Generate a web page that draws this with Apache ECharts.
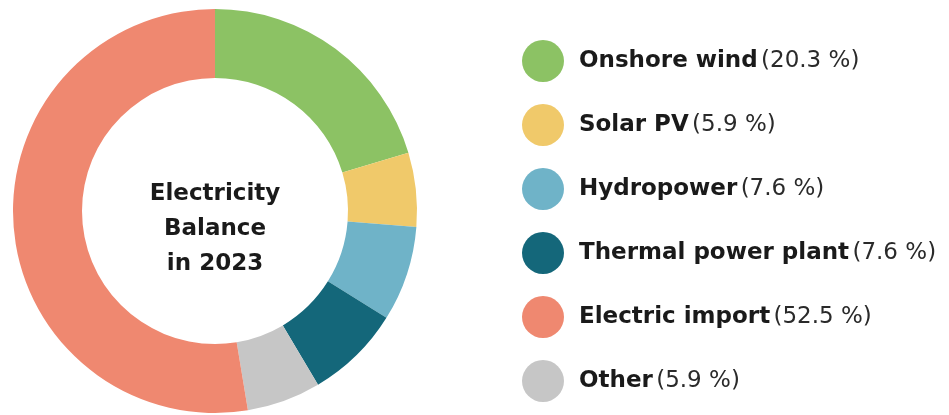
<!DOCTYPE html>
<html>
<head>
<meta charset="utf-8">
<script src="https://cdn.jsdelivr.net/npm/echarts@6/dist/echarts.min.js"></script>
<style>
html,body{margin:0;padding:0;background:#fff;}
#chart{width:949px;height:415px;}
</style>
</head>
<body>
<div id="chart"></div>
<script>
// Data
const sliceNames = ['Onshore wind', 'Solar PV', 'Hydropower', 'Thermal power plant', 'Other', 'Electric import'];
const sliceValues = [20.3, 5.9, 7.6, 7.6, 5.9, 52.5];
const sliceColors = ['#8cc264', '#f0c96a', '#6fb3c8', '#14677a', '#c6c6c6', '#ef8870'];
const legendOrder = ['Onshore wind', 'Solar PV', 'Hydropower', 'Thermal power plant', 'Electric import', 'Other'];
const centerLines = ['Electricity', 'Balance', 'in 2023'];

const chart = echarts.init(document.getElementById('chart'), null, {renderer: 'canvas'});
const valueOf = {};
sliceNames.forEach((n, i) => valueOf[n] = sliceValues[i]);

const option = {
  animation: false,
  color: sliceColors,
  graphic: [{
    type: 'text',
    x: 215,
    y: 229,
    style: {
      text: centerLines.join('\n'),
      align: 'center',
      verticalAlign: 'middle',
      fontFamily: 'DejaVu Sans',
      fontWeight: 'bold',
      fontSize: 23,
      lineHeight: 35,
      fill: '#1a1a1a'
    }
  }],
  legend: {
    orient: 'vertical',
    left: 517,
    top: 35,
    itemWidth: 42,
    itemHeight: 42,
    itemGap: 22,
    icon: 'circle',
    data: legendOrder,
    selectedMode: false,
    formatter: function (name) {
      return '{b|' + name + '} {r|(' + valueOf[name].toFixed(1) + ' %)}';
    },
    textStyle: {
      padding: [0, 0, 0, 10],
      rich: {
        b: {fontFamily: 'DejaVu Sans', fontWeight: 'bold', fontSize: 23, color: '#1a1a1a'},
        r: {fontFamily: 'DejaVu Sans', fontWeight: 'normal', fontSize: 23, color: '#2a2a2a'}
      }
    }
  },
  series: [{
    type: 'pie',
    center: [215, 211],
    radius: [133, 202],
    startAngle: 90,
    clockwise: true,
    label: {show: false},
    labelLine: {show: false},
    emphasis: {disabled: true},
    itemStyle: {borderWidth: 0},
    data: sliceNames.map((n, i) => ({name: n, value: sliceValues[i]}))
  }]
};
chart.setOption(option);
</script>
</body>
</html>
